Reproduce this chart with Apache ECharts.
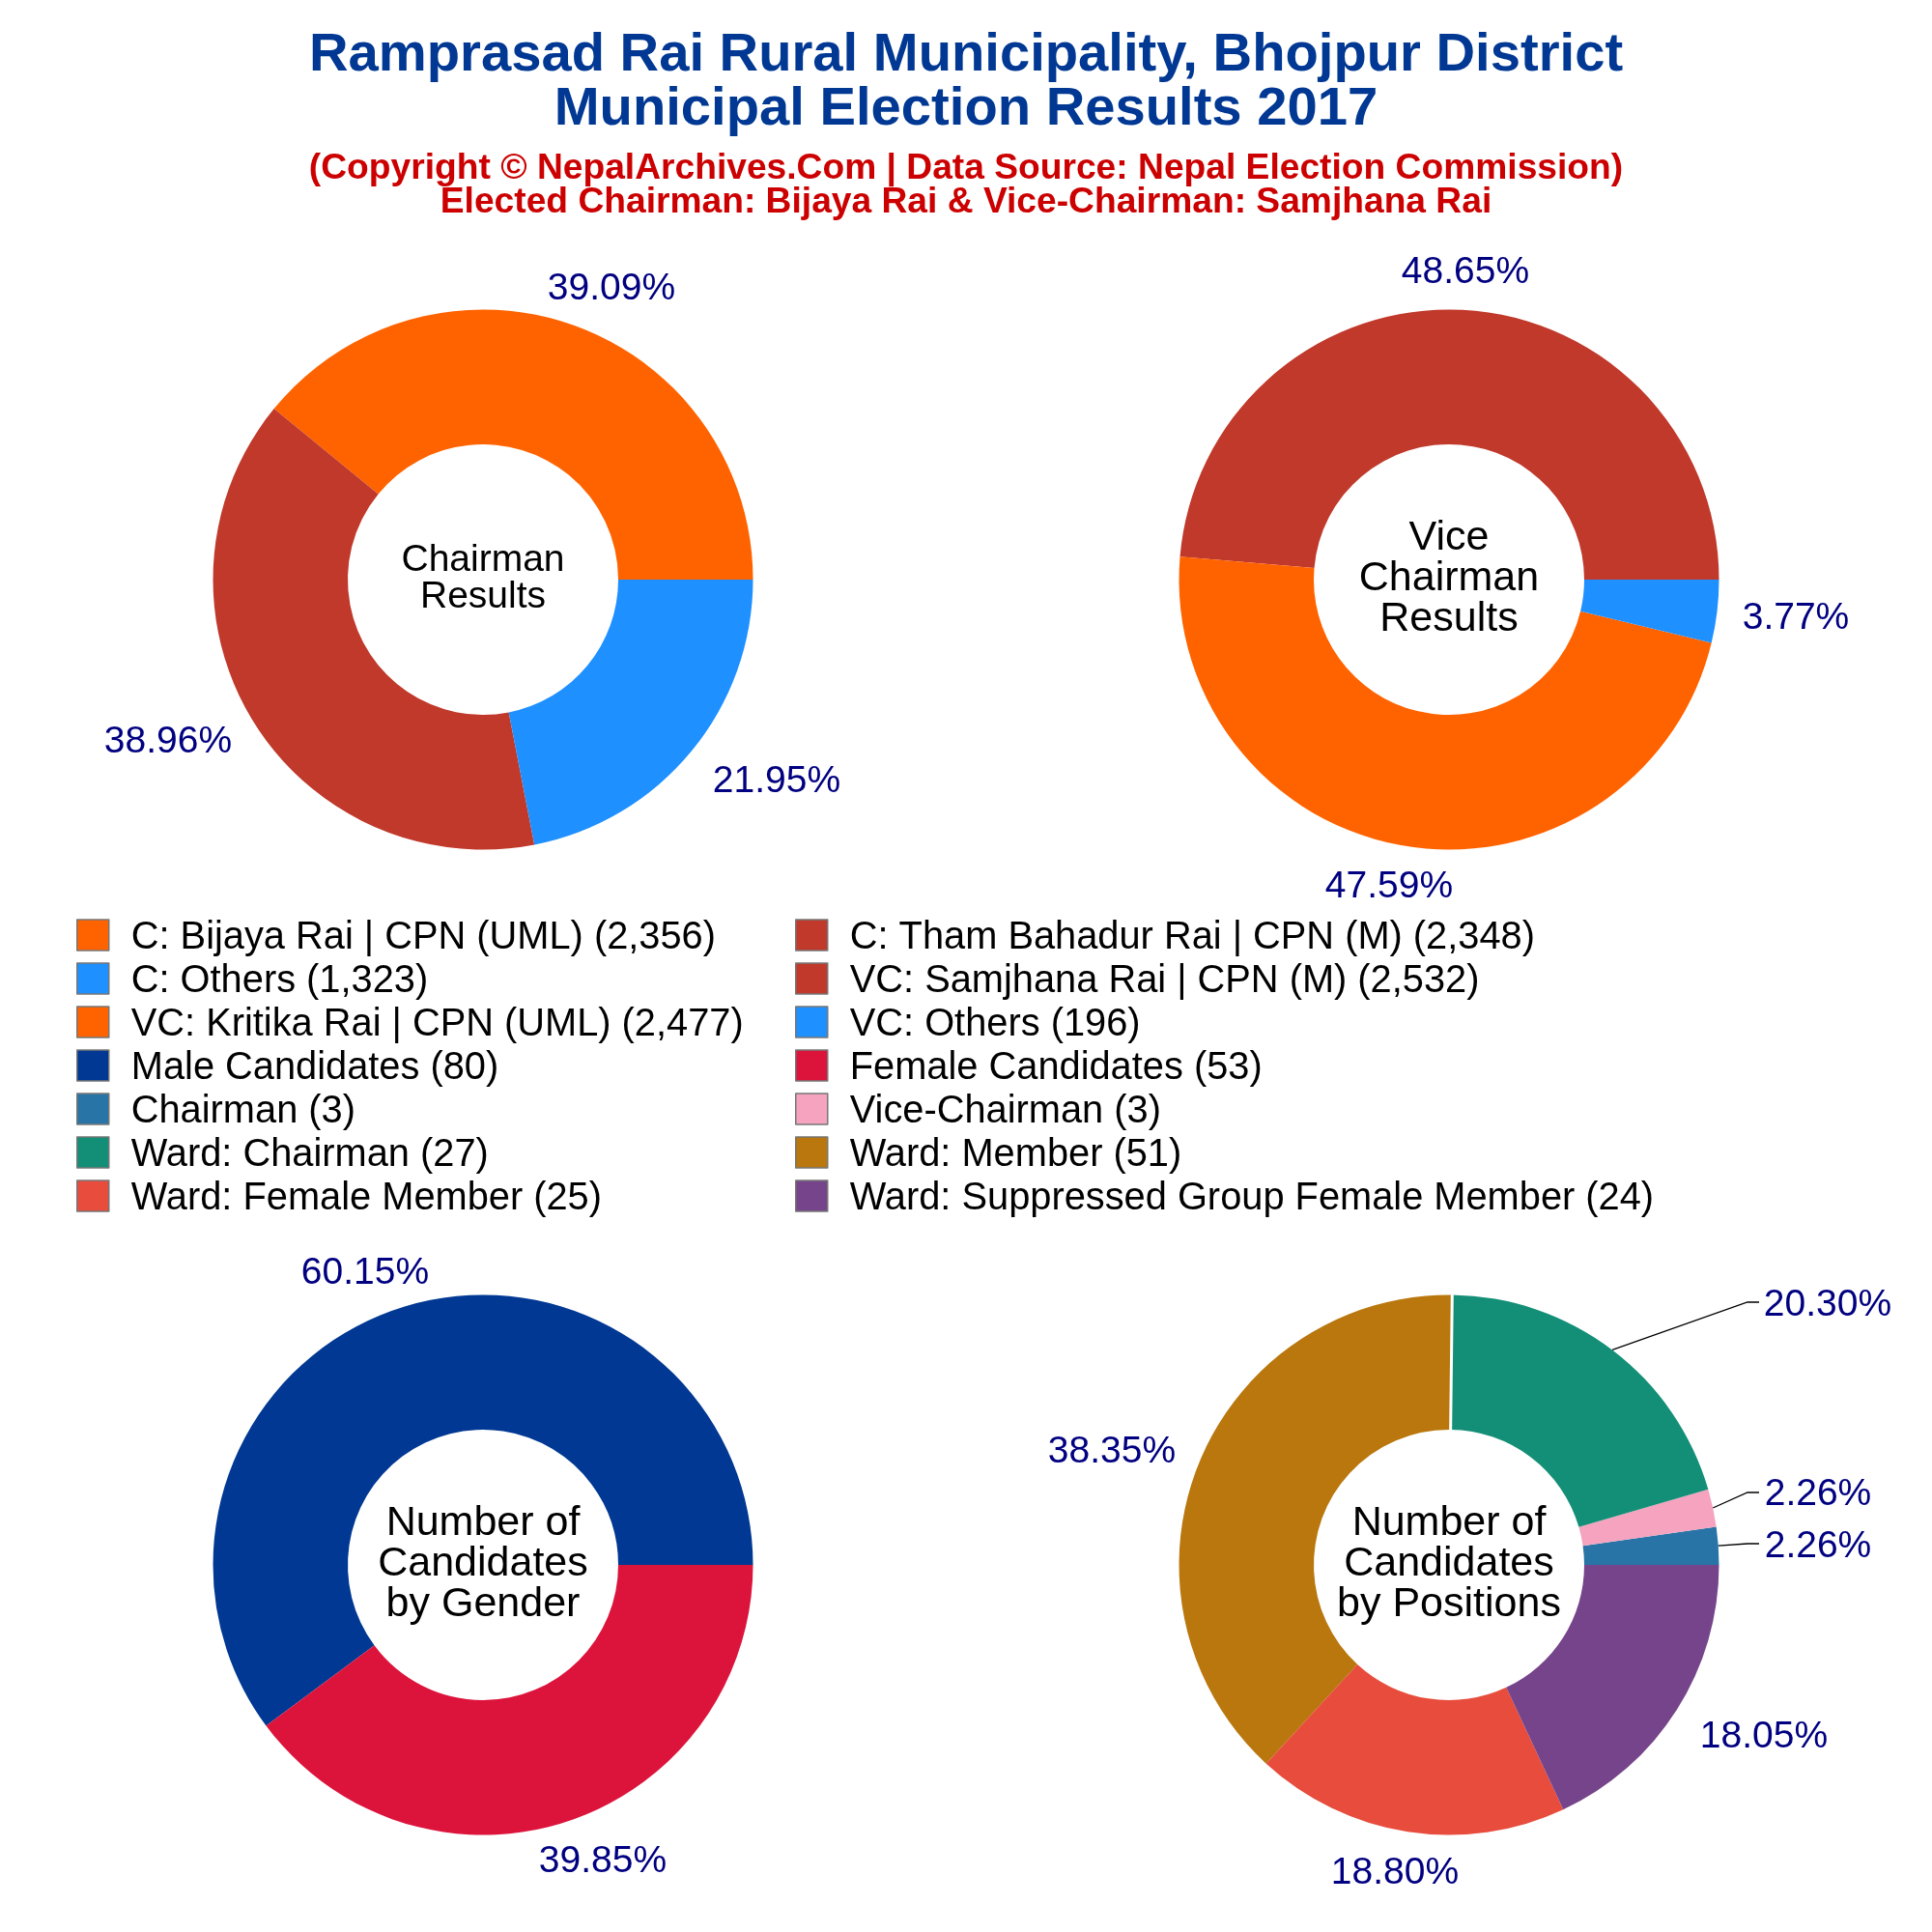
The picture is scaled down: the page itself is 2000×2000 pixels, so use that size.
<!DOCTYPE html>
<html>
<head>
<meta charset="utf-8">
<title>Ramprasad Rai Rural Municipality</title>
<script src="https://cdn.jsdelivr.net/npm/echarts@6/dist/echarts.min.js"></script>
<style>
  html, body { margin: 0; padding: 0; background: #fff; }
  #main { width: 2000px; height: 2000px; }
</style>
</head>
<body>
<div id="main"></div>
<script>
const chairmanNames = ["C: Bijaya Rai | CPN (UML)", "C: Tham Bahadur Rai | CPN (M)", "C: Others"];
const chairmanVotes = [2356, 2348, 1323];
const viceNames = ["VC: Samjhana Rai | CPN (M)", "VC: Kritika Rai | CPN (UML)", "VC: Others"];
const viceVotes = [2532, 2477, 196];
const genderNames = ["Male Candidates", "Female Candidates"];
const genderCounts = [80, 53];
const positionNames = ["Chairman", "Vice-Chairman", "Ward: Chairman", "Ward: Member", "Ward: Female Member", "Ward: Suppressed Group Female Member"];
const positionCounts = [3, 3, 27, 51, 25, 24];

const chairmanColors = ["#FF6300", "#C0392B", "#1E90FF"];
const viceColors = ["#C0392B", "#FF6300", "#1E90FF"];
const genderColors = ["#003893", "#DC143C"];
const positionColors = ["#2874A6", "#F5A3BF", "#148F77", "#B9770E", "#E74C3C", "#76448A"];

// legend rows, left column then right column
const legendLeft = [chairmanNames[0], chairmanNames[2], viceNames[1], genderNames[0], positionNames[0], positionNames[2], positionNames[4]];
const legendRight = [chairmanNames[1], viceNames[0], viceNames[2], genderNames[1], positionNames[1], positionNames[3], positionNames[5]];

const FONT = '"Liberation Sans", Arial, sans-serif';

const lookup = {};
function remember(names, values) {
  names.forEach((n, i) => {
    lookup[n] = `${n} (${values[i].toLocaleString("en-US")})`;
  });
}
remember(chairmanNames, chairmanVotes);
remember(viceNames, viceVotes);
remember(genderNames, genderCounts);
remember(positionNames, positionCounts);

function makePie(names, values, colors, center, labelPos, elbows) {
  const total = values.reduce((a, b) => a + b, 0);
  const data = names.map((name, i) => ({
    name,
    value: values[i],
    itemStyle: { color: colors[i] },
    label: { formatter: ((values[i] / total) * 100).toFixed(2) + "%" },
    labelLine: { show: !!(elbows && elbows[i]) },
  }));
  return {
    type: "pie",
    center,
    radius: [140, 279.5],
    startAngle: 0,
    clockwise: false,
    silent: true,
    animation: false,
    avoidLabelOverlap: false,
    label: { show: true, position: "outside", color: "#000080", fontSize: 39, fontFamily: FONT },
    labelLine: { show: false, lineStyle: { color: "#000", width: 1.3 } },
    labelLayout: function (params) {
      const i = params.dataIndex;
      if (!labelPos[i]) return {};
      const out = { x: labelPos[i][0], y: labelPos[i][1], align: "center", verticalAlign: "middle" };
      if (elbows && elbows[i] && params.labelLinePoints) {
        out.labelLinePoints = [
          params.labelLinePoints[0],
          elbows[i],
          [elbows[i][0] + 12, elbows[i][1]],
        ];
      }
      return out;
    },
    data,
  };
}

function centerText(text, x, y, size, lineHeight) {
  return {
    text,
    left: x,
    top: y,
    padding: 0,
    textAlign: "center",
    textVerticalAlign: "middle",
    textStyle: { fontFamily: FONT, fontSize: size, fontWeight: "normal", color: "#000", lineHeight },
  };
}

function makeLegend(list, left) {
  return {
    orient: "vertical",
    left,
    top: 951,
    padding: 0,
    data: list,
    icon: "rect",
    itemWidth: 33,
    itemHeight: 32,
    itemGap: 5,
    selectedMode: false,
    itemStyle: { borderColor: "#777", borderWidth: 1.5 },
    formatter: (n) => `{t|${lookup[n]}}`,
    // rich text so the top padding nudges the words below the swatch centre
    textStyle: {
      padding: [6, 0, 0, 18],
      rich: { t: { fontFamily: FONT, fontSize: 39.8, color: "#000", lineHeight: 40 } },
    },
  };
}

// white hairline between ward chairman and ward member, as in the original picture
const positionPie = makePie(positionNames, positionCounts, positionColors, [1500, 1620],
  [[1882, 1601.5], [1882, 1547.5], [1892, 1351.5], [1151, 1503.5], [1444, 1939.5], [1826, 1798.5]],
  [[1809, 1598], [1809, 1545], [1809, 1348]]);
const seamPie = makePie(["seam"], [0], ["#fff"], [1500, 1620], [], null);
seamPie.data = [
  { value: positionCounts[0] + positionCounts[1] + positionCounts[2], itemStyle: { color: "transparent" } },
  { value: 0, itemStyle: { color: "#fff", borderColor: "#fff", borderWidth: 3 } },
  { value: positionCounts[3] + positionCounts[4] + positionCounts[5], itemStyle: { color: "transparent" } },
];
seamPie.label = { show: false };
seamPie.labelLine = { show: false };
delete seamPie.labelLayout;

const chart = echarts.init(document.getElementById("main"));
chart.setOption({
  backgroundColor: "#fff",
  animation: false,
  title: [
    {
      text: "Ramprasad Rai Rural Municipality, Bhojpur District\nMunicipal Election Results 2017",
      left: 1000,
      top: 85.5,
      padding: 0,
      textAlign: "center",
      textVerticalAlign: "middle",
      textStyle: { fontFamily: FONT, fontSize: 56.2, fontWeight: "bold", color: "#003893", lineHeight: 55.5 },
    },
    {
      text: "(Copyright © NepalArchives.Com | Data Source: Nepal Election Commission)\nElected Chairman: Bijaya Rai & Vice-Chairman: Samjhana Rai",
      left: 1000,
      top: 192.5,
      padding: 0,
      textAlign: "center",
      textVerticalAlign: "middle",
      textStyle: { fontFamily: FONT, fontSize: 37.2, fontWeight: "bold", color: "#CC0000", lineHeight: 35 },
    },
    centerText("Chairman\nResults", 500, 599, 39, 38),
    centerText("Vice\nChairman\nResults", 1500, 599, 43, 42),
    centerText("Number of\nCandidates\nby Gender", 500, 1619, 43, 42),
    centerText("Number of\nCandidates\nby Positions", 1500, 1619, 43, 42),
  ],
  legend: [makeLegend(legendLeft, 79), makeLegend(legendRight, 823)],
  series: [
    makePie(chairmanNames, chairmanVotes, chairmanColors, [500, 600],
      [[633, 299], [174, 768.5], [804, 809.5]]),
    makePie(viceNames, viceVotes, viceColors, [1500, 600],
      [[1517, 282.5], [1438, 918.5], [1859, 640.5]]),
    makePie(genderNames, genderCounts, genderColors, [500, 1620],
      [[378, 1318.5], [624, 1927]]),
    positionPie,
    seamPie,
  ],
});
</script>
</body>
</html>
